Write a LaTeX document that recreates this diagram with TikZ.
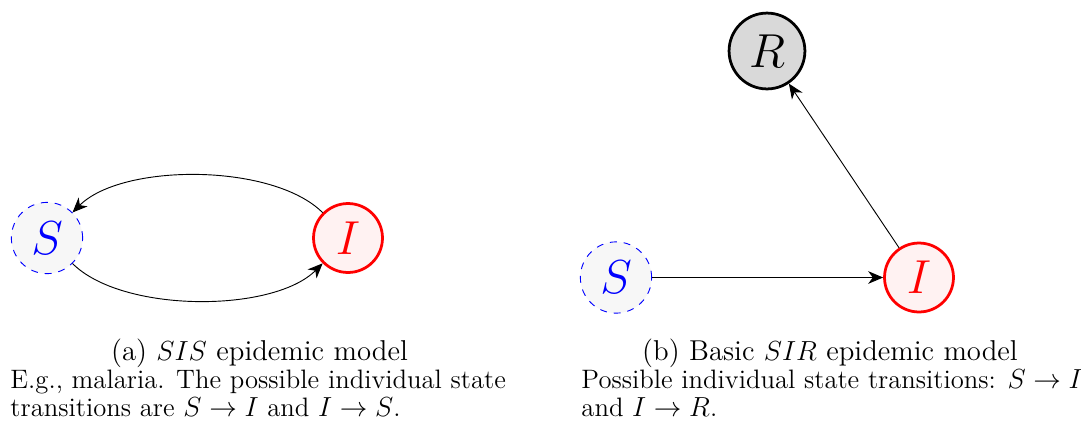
\documentclass[tikz,border=0pt]{standalone}
\usetikzlibrary{arrows.meta}
\begin{document}
\begin{tikzpicture}[x=0.435pt,y=-0.435pt,
  sus/.style={circle,draw=blue,dashed,fill=black!3,line width=0.4pt,minimum size=31pt,inner sep=0pt,text=blue,font=\huge},
  inf/.style={circle,draw=red,fill=red!5,line width=1.2pt,minimum size=30pt,inner sep=0pt,text=red,font=\huge},
  rec/.style={circle,draw=black,fill=black!15,line width=1.2pt,minimum size=33pt,inner sep=0pt,font=\huge},
  edge/.style={-{Stealth[length=6.5pt,width=5.5pt,inset=2pt]},line width=0.4pt},
  captext/.style={anchor=base,inner sep=0pt,font=\fontsize{12.5}{15}\selectfont},
  desc/.style={anchor=north west,inner sep=0pt,align=left,font=\fontsize{11.6}{12.2}\selectfont}]
\useasboundingbox (0,0) rectangle (1081,423);
% (a) SIS
\node[sus] (s1) at (47,238) {$S$};
\node[inf] (i1) at (348,238) {$I$};
\draw[edge] (s1) to[out=-45,in=-135,looseness=0.72] (i1);
\draw[edge] (i1) to[out=135,in=45,looseness=0.72] (s1);
\node[captext] (ca) at (259.5,360) {(a) $SIS$ epidemic model};
\node[desc] (da) at (10,369.5) {E.g., malaria. The possible individual state\\transitions are $S\rightarrow I$ and $I\rightarrow S$.};
% (b) SIR
\node[sus] (s2) at (616,277.5) {$S$};
\node[inf] (i2) at (919,277.5) {$I$};
\node[rec] (r2) at (767,51) {$R$};
\draw[edge] (s2) -- (i2);
\draw[edge] (i2) -- (r2);
\node[captext] (cb) at (830,360) {(b) Basic $SIR$ epidemic model};
\node[desc] (db) at (581,369.5) {Possible individual state transitions: $S\rightarrow I$\\and $I\rightarrow R$.};
\end{tikzpicture}
\end{document}
